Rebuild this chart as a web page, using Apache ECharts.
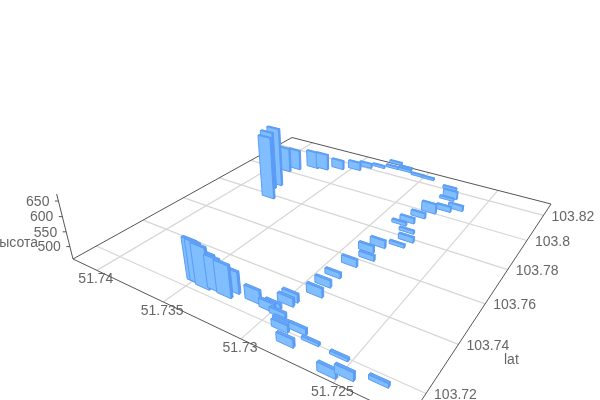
<!DOCTYPE html><html><head><meta charset="utf-8"><style>html,body{margin:0;background:#fff}#c{width:600px;height:400px}</style>
<script src="https://cdn.jsdelivr.net/npm/echarts@6/dist/echarts.min.js"></script></head><body><div id="c"></div><script>
const lngs=[51.7374,51.7382,51.7381,51.7389,51.7385,51.7375,51.7368,51.7359,51.7348,51.7343,51.7335,51.7326,51.7327,51.7317,51.7316,
51.7305,51.7297,51.7278,51.7273,51.7274,51.7264,51.7270,51.7277,51.7280,51.7283,51.7286,51.7278,51.7274,51.7276,51.7285,
51.7288,51.7284,51.7289,51.7291,51.7291,51.7290,51.7298,51.7298,51.7313,51.7303,51.7302,51.7296,51.7290,51.7289,51.7281,
51.7281,51.7272,51.7256,51.7255,51.7248,51.7234,51.7349,51.7347,51.7342,51.7339,51.7335,51.7328,51.7327];
const lats=[103.7787,103.7857,103.7890,103.8010,103.8048,103.8097,103.8107,103.8145,103.8175,103.8218,103.8246,103.8268,103.8313,103.8289,103.8270,
103.8256,103.8253,103.8217,103.8152,103.8133,103.8079,103.8049,103.8009,103.7957,103.7904,103.7876,103.7841,103.7790,103.7746,103.7710,
103.7663,103.7626,103.7567,103.7489,103.7434,103.7381,103.7324,103.7302,103.7261,103.7253,103.7272,103.7248,103.7219,103.7205,103.7223,
103.7166,103.7206,103.7200,103.7133,103.7150,103.7177,103.7239,103.7240,103.7233,103.7246,103.7241,103.7237,103.7265];
const heights=[683,669,674,549,533,521,518,491,487,474,466,466,466,466,466,
465,465,466,485,466,476,476,492,476,476,468,468,476,468,483,
482,475,482,475,481,487,484,484,500,484,474,474,480,480,477,
483,466,466,483,483,470,595,592,592,566,564,562,528];
const lngTicks=[51.74,51.735,51.73,51.725];
const latTicks=[103.72,103.74,103.76,103.78,103.8,103.82];
const heightTicks=[500,550,600,650];
const lngRange=[51.7215,51.742], latRange=[103.711,103.83], heightRange=[457,672];

// perspective camera for the floor and the vertical axis
const g=-.29306,h=.45852,a=216.28,b=352.89,c=73,d=37.21,e=-58.45,f=259,q=-.0567,Vx=345,Vy=1340;
function project(s,t,zt){const qz=q*zt,W=g*s+h*t+1+qz;
  return [(a*s+b*t+c+qz*Vx)/W,(d*s+e*t+f+qz*Vy)/W];}
const zNorm=v=>(v-heightRange[0])/(heightRange[1]-heightRange[0]);
// the hidden cartesian grid fills the canvas, so api.coord yields normalised floor coordinates
function floor(api,lng,lat){const p=api.coord([lng,lat]);return [p[0]/600,1-p[1]/400];}
const halfS=.023,frontT=.009,backT=.0015;
const order=lngs.map((_,i)=>i).sort((i,j)=>{
  const w=k=>g*(lngRange[1]-lngs[k])/(lngRange[1]-lngRange[0])+h*(lats[k]-latRange[0])/(latRange[1]-latRange[0]);
  return w(j)-w(i);});
const barData=order.map(i=>[lngs[i],lats[i],heights[i]]);
const lineCol='#555',gridCol='#d6d6d6',txt='#666',font='14px "Liberation Sans",Arial,sans-serif';
function seg(p,q2,col,w){return {type:'line',shape:{x1:p[0],y1:p[1],x2:q2[0],y2:q2[1]},style:{stroke:col,lineWidth:w}};}
function label(x,y,text,align){return {type:'text',x,y,style:{text,fill:txt,font,textAlign:align,textVerticalAlign:'middle'}};}

const option={animation:false,backgroundColor:'#fff',
 grid:{left:0,right:0,top:0,bottom:0,show:false},
 xAxis:{type:'value',min:lngRange[0],max:lngRange[1],inverse:true,show:false},
 yAxis:{type:'value',min:latRange[0],max:latRange[1],show:false},
 series:[
 {type:'custom',name:'lng',coordinateSystem:'cartesian2d',z:1,clip:false,silent:true,data:lngTicks.map(v=>[v]),
  renderItem(p,api){const v=api.value(0);const A=floor(api,v,latRange[0]),B=floor(api,v,latRange[1]);
    const P=project(A[0],0,0),Q=project(B[0],1,0);
    return {type:'group',children:[seg(P,Q,gridCol,1.2),label(P[0]-1,P[1]+9,String(v),'center')]};}},
 {type:'custom',name:'lat',coordinateSystem:'cartesian2d',z:1,clip:false,silent:true,data:latTicks.map(v=>[v]),
  renderItem(p,api){const v=api.value(0);const A=floor(api,lngRange[1],v),B=floor(api,lngRange[0],v);
    const P=project(0,A[1],0),Q=project(1,B[1],0);
    return {type:'group',children:[seg(P,Q,gridCol,1.2),label(Q[0]+8,Q[1]+1.5,String(v),'left')]};}},
 {type:'custom',name:'высота',coordinateSystem:'cartesian2d',z:1,clip:false,silent:true,data:heightTicks.map(v=>[v]),
  renderItem(p,api){const v=api.value(0);const P=project(0,0,zNorm(v));
    return {type:'group',children:[seg(P,[P[0]-3.5,P[1]],lineCol,1),label(P[0]-9,P[1]+1,String(v),'right')]};}},
 {type:'custom',name:'box',coordinateSystem:'cartesian2d',z:1,clip:false,silent:true,data:[[0]],
  renderItem(){const A=project(0,0,0),D=project(1,0,0),C=project(1,1,0),B=project(0,1,0),T=project(0,0,1);
    return {type:'group',children:[seg(A,D,lineCol,1),seg(D,C,lineCol,1),seg(C,B,lineCol,1),seg(B,A,lineCol,1),seg(A,T,lineCol,1),
      label(38,243,'высота','right'),label(504,360,'lat','left')]};}},
 {type:'custom',name:'bars',coordinateSystem:'cartesian2d',z:2,clip:false,silent:true,data:barData,
  encode:{x:0,y:1},
  renderItem(p,api){const [s,t]=floor(api,api.value(0),api.value(1));const zt=zNorm(api.value(2));
    const s0=s-halfS,s1=s+halfS,t0=t-frontT,t1=t-backT;
    const poly=(pts,fill)=>({type:'polygon',shape:{points:pts},style:{fill,stroke:'#5a9cf5',lineWidth:1,lineJoin:'round'}});
    return {type:'group',children:[
      poly([project(s1,t0,0),project(s1,t1,0),project(s1,t1,zt),project(s1,t0,zt)],'#5c9df3'),
      poly([project(s0,t0,zt),project(s1,t0,zt),project(s1,t1,zt),project(s0,t1,zt)],'#66a6f6'),
      poly([project(s0,t0,0),project(s1,t0,0),project(s1,t0,zt),project(s0,t0,zt)],'#80beff')
    ]};}}
 ]};
echarts.init(document.getElementById('c'),null,{renderer:'canvas'}).setOption(option);
</script></body></html>
